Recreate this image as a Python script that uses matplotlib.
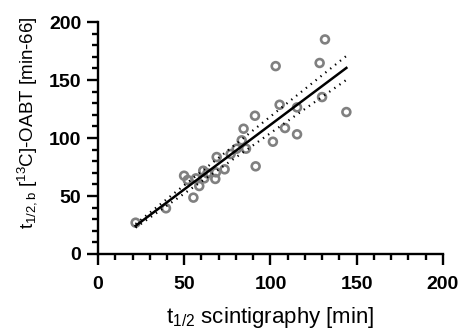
import numpy as np
import matplotlib.pyplot as plt
from matplotlib.ticker import MultipleLocator

plt.rcParams['mathtext.fontset'] = 'custom'
plt.rcParams['mathtext.rm'] = 'Liberation Sans'
plt.rcParams['mathtext.it'] = 'Liberation Sans'

# t1/2 scintigraphy [min] vs t1/2,b 13C-OABT [min-66]
scint = [21.8, 39.4, 49.9, 52.0, 55.3, 56.8, 58.7, 61.0, 61.6, 63.4,
         68.0, 68.4, 68.8, 73.4, 76.9, 80.4, 83.3, 84.4, 85.8, 91.4,
         91.0, 101.4, 103.0, 105.3, 108.4, 115.4, 115.4, 128.5, 129.9, 131.6,
         144.0]
oabt = [27.0, 39.4, 67.5, 63.8, 48.6, 65.2, 58.6, 71.8, 65.2, 69.5,
        64.7, 70.4, 83.6, 73.0, 86.2, 90.8, 98.0, 108.0, 90.8, 75.6,
        119.2, 96.8, 162.0, 128.7, 108.6, 126.4, 103.2, 164.7, 135.3, 185.0,
        122.4]

x = np.array(scint)
y = np.array(oabt)
n = len(x)

# fit through origin with 95% confidence band
slope = np.sum(x * y) / np.sum(x * x)
resid = y - slope * x
s = np.sqrt(np.sum(resid ** 2) / (n - 1))
t_val = 2.042  # t(0.975, df=30)
xf = np.linspace(x.min(), x.max(), 200)
yf = slope * xf
se = s * xf / np.sqrt(np.sum(x * x))

fig = plt.figure(figsize=(4.63, 3.29), dpi=100)
ax = fig.add_axes([0.2117, 0.228, 0.745, 0.705])

ax.plot(xf, yf, color='black', lw=1.8, zorder=3)
ax.plot(xf, yf + t_val * se, color='black', lw=1.6, ls=(0, (0.6, 2.2)), zorder=3)
ax.plot(xf, yf - t_val * se, color='black', lw=1.6, ls=(0, (0.6, 2.2)), zorder=3)
ax.scatter(x, y, s=32, facecolors='none', edgecolors='#808080', linewidths=1.9, zorder=2)

ax.set_xlim(0, 200)
ax.set_ylim(0, 200)
ax.xaxis.set_major_locator(MultipleLocator(50))
ax.xaxis.set_minor_locator(MultipleLocator(10))
ax.yaxis.set_major_locator(MultipleLocator(50))
ax.yaxis.set_minor_locator(MultipleLocator(10))

for side in ['top', 'right']:
    ax.spines[side].set_visible(False)
for side in ['left', 'bottom']:
    ax.spines[side].set_linewidth(1.7)
    ax.spines[side].set_clip_on(False)
ax.tick_params(which='major', length=8, width=1.7, direction='out')
ax.tick_params(which='minor', length=4, width=1.7, direction='out')
ax.tick_params(axis='x', which='major', pad=8)
ax.tick_params(axis='y', which='major', pad=4)

for lab in ax.get_xticklabels() + ax.get_yticklabels():
    lab.set_fontfamily('Liberation Sans')
    lab.set_fontweight('bold')
    lab.set_fontsize(14)

ax.set_xlabel(r't$_{\mathrm{1/2}}$ scintigraphy [min]', fontfamily='Liberation Sans', fontsize=16)
ax.set_ylabel(r't$_{\mathrm{1/2,b}}$ [$^{\mathrm{13}}$C]-OABT [min-66]', fontfamily='Liberation Sans', fontsize=13.5)
ax.xaxis.set_label_coords(0.5, -0.222)
ax.yaxis.set_label_coords(-0.17, 0.565)

fig.savefig('out.png', dpi=100)
